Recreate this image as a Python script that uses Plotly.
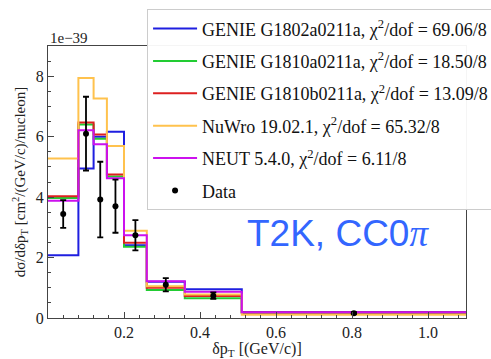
import plotly.graph_objects as go

# ---- data ----
bin_edges = [0, 0.08, 0.12, 0.155, 0.2, 0.26, 0.36, 0.51, 1.1]
genie_g1802a = [2.08, 4.95, 6.00, 6.16, 2.41, 1.20, 0.95, 0.20]
genie_g1810a = [3.97, 6.40, 5.93, 4.68, 2.36, 0.93, 0.65, 0.17]
genie_g1810b = [4.03, 6.47, 6.07, 4.75, 2.49, 1.00, 0.73, 0.18]
nuwro = [5.28, 7.94, 7.26, 5.69, 2.89, 1.05, 0.78, 0.11]
neut = [3.88, 6.21, 5.75, 4.62, 2.74, 1.22, 0.87, 0.19]
data_x = [0.04, 0.10, 0.1375, 0.1775, 0.23, 0.31, 0.435, 0.805]
data_y = [3.44, 6.10, 3.92, 3.70, 2.74, 1.10, 0.74, 0.16]
data_err = [0.46, 1.22, 1.25, 0.88, 0.50, 0.22, 0.11, 0.03]

series_names = [
    "GENIE G1802a0211a, χ<sup>2</sup>/dof = 69.06/8",
    "GENIE G1810a0211a, χ<sup>2</sup>/dof = 18.50/8",
    "GENIE G1810b0211a, χ<sup>2</sup>/dof = 13.09/8",
    "NuWro 19.02.1, χ<sup>2</sup>/dof = 65.32/8",
    "NEUT 5.4.0, χ<sup>2</sup>/dof = 6.11/8",
]
series_vals = [genie_g1802a, genie_g1810a, genie_g1810b, nuwro, neut]
series_colors = ["#1f1fe0", "#22cc33", "#dd2020", "#ffc24d", "#cc11ee"]

SERIF = "Liberation Serif"

fig = go.Figure()
for i, (name, vals, col) in enumerate(zip(series_names, series_vals, series_colors)):
    fig.add_trace(go.Scatter(
        x=bin_edges, y=list(vals) + [vals[-1]],
        mode="lines", line=dict(shape="hv", color=col, width=2),
        name=name, legendgroup=f"g{i}",
    ))

fig.add_trace(go.Scatter(
    x=data_x, y=data_y, mode="markers", name="Data", legendgroup="data",
    marker=dict(color="black", size=6),
    error_y=dict(type="data", array=data_err, color="black", thickness=1.8, width=3),
))

axis_common = dict(
    showline=True, linecolor="#444", linewidth=1, mirror=True,
    ticks="inside", ticklen=6, tickcolor="#444",
    showgrid=False, zeroline=False,
    tickfont=dict(family=SERIF, size=16, color="#222"),
)
fig.update_xaxes(range=[0, 1.1], tickvals=[0.2, 0.4, 0.6, 0.8, 1.0], ticktext=["0.2", "0.4", "0.6", "0.8", "1.0"],
                 minor=dict(ticks="inside", ticklen=3, dtick=0.04, tick0=0, tickcolor="#444"),
                 title=dict(text="δp<sub>T</sub> [(GeV/c)]", font=dict(family=SERIF, size=16, color="#222"), standoff=3),
                 **axis_common)
fig.update_yaxes(range=[0, 9], tickvals=[0, 2, 4, 6, 8],
                 minor=dict(ticks="inside", ticklen=3, dtick=0.5, tick0=0, tickcolor="#444"),
                 title=dict(text="dσ/dδp<sub>T</sub> [cm<sup>2</sup>/(GeV/c)/nucleon]", font=dict(family=SERIF, size=15, color="#222"), standoff=6),
                 **axis_common)

fig.add_annotation(text="1e−39", xref="paper", yref="paper", x=0, y=1.0, xanchor="left", yanchor="bottom",
                   showarrow=False, font=dict(family=SERIF, size=15, color="#222"), yshift=-2)
fig.add_annotation(text="T2K, CC0<span style='font-family:Liberation Serif'><i>π</i></span>",
                   xref="paper", yref="paper", x=0.694, y=0.312, xanchor="center", yanchor="middle",
                   showarrow=False, font=dict(family="Liberation Sans", size=37, color="#3366ff"))

fig.update_layout(
    width=491, height=359,
    margin=dict(l=48, r=25, t=46, b=41, autoexpand=False),
    plot_bgcolor="white", paper_bgcolor="white",
    showlegend=True,
    legend=dict(x=0.237, y=1.135, xanchor="left", yanchor="top", maxheight=340,
                bgcolor="rgba(255,255,255,0.95)", bordercolor="#cccccc", borderwidth=1,
                font=dict(family=SERIF, size=18, color="#111"),
                tracegroupgap=6, itemwidth=44),
)

fig.write_html("out.html")
